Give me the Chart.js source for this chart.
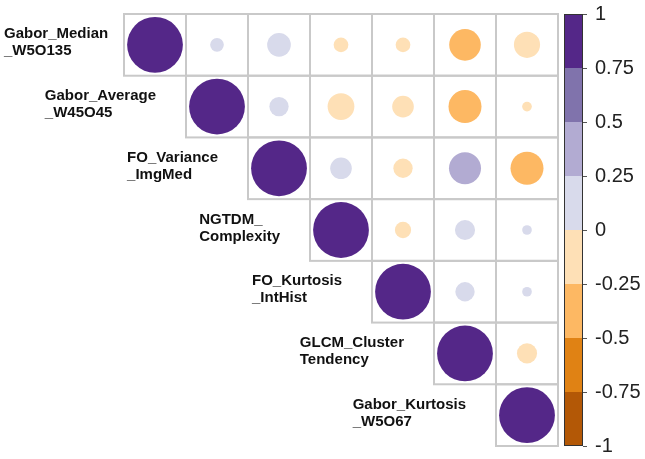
<!DOCTYPE html>
<html>
<head>
<meta charset="utf-8">
<script src="https://cdn.jsdelivr.net/npm/chart.js@4/dist/chart.umd.min.js"></script>
<style>
  body { margin: 0; background: #fff; }
</style>
</head>
<body>
<canvas id="corrChart" width="645" height="459"></canvas>
<script>
const variableLabels = [
  ['Gabor_Median', '_W5O135'],
  ['Gabor_Average', '_W45O45'],
  ['FO_Variance', '_ImgMed'],
  ['NGTDM_', 'Complexity'],
  ['FO_Kurtosis', '_IntHist'],
  ['GLCM_Cluster', 'Tendency'],
  ['Gabor_Kurtosis', '_W5O67'],
];

// upper triangle, row i starts at column i
const corrRows = [
  [1, 0.06, 0.18, -0.07, -0.07, -0.32, -0.22],
  [1, 0.12, -0.23, -0.15, -0.35, -0.03],
  [1, 0.15, -0.12, 0.33, -0.35],
  [1, -0.085, 0.13, 0.03],
  [1, 0.12, 0.03],
  [1, -0.13],
  [1],
];

const colorTicks = [-1, -0.75, -0.5, -0.25, 0, 0.25, 0.5, 0.75, 1];
const colorBins = ['#b35806', '#e08214', '#fdb863', '#fee0b6', '#d8daeb', '#b2abd2', '#8073ac', '#542788'];

const n = variableLabels.length;

function colorFor(v) {
  for (let k = 0; k < colorBins.length; k++) {
    if (v <= colorTicks[k + 1]) return colorBins[k];
  }
  return colorBins[colorBins.length - 1];
}

const points = [];
corrRows.forEach((row, i) => {
  row.forEach((v, k) => points.push({ x: i + k, y: i, v }));
});

function cellSize(chart) {
  const xs = chart.scales.x;
  return xs.getPixelForValue(1) - xs.getPixelForValue(0);
}

const gridPlugin = {
  id: 'cellGrid',
  beforeDatasetsDraw(chart) {
    const { ctx, scales } = chart;
    const cw = cellSize(chart);
    const chh = scales.y.getPixelForValue(1) - scales.y.getPixelForValue(0);
    ctx.save();
    ctx.strokeStyle = '#c9c9c9';
    ctx.lineWidth = 2;
    for (let i = 0; i < n; i++) {
      for (let j = i; j < n; j++) {
        const cx = scales.x.getPixelForValue(j);
        const cy = scales.y.getPixelForValue(i);
        ctx.strokeRect(cx - cw / 2, cy - chh / 2, cw, chh);
      }
    }
    ctx.restore();
  },
  afterDraw(chart) {
    const { ctx, scales, chartArea } = chart;
    const c = cellSize(chart);
    ctx.save();
    ctx.font = 'bold 15px "Liberation Sans", Arial, sans-serif';
    ctx.fillStyle = '#111';
    ctx.textBaseline = 'middle';
    ctx.textAlign = 'left';
    const lineH = 17;
    variableLabels.forEach((lines, i) => {
      const w = Math.max(...lines.map((t) => ctx.measureText(t).width));
      const cellLeft = scales.x.getPixelForValue(i) - c / 2;
      const x = Math.max(4, cellLeft - 30 - w);
      const cy = scales.y.getPixelForValue(i) - 2;
      lines.forEach((t, k) => {
        ctx.fillText(t, x, cy + (k - (lines.length - 1) / 2) * lineH);
      });
    });

    // colour bar
    const cb = scales.cb;
    const x0 = chartArea.right + 6;
    const x1 = chartArea.right + 25;
    colorBins.forEach((col, k) => {
      const yTop = cb.getPixelForValue(colorTicks[k + 1]);
      const yBot = cb.getPixelForValue(colorTicks[k]);
      ctx.fillStyle = col;
      ctx.fillRect(x0, yTop, x1 - x0, yBot - yTop);
    });
    ctx.strokeStyle = '#333';
    ctx.lineWidth = 1;
    ctx.strokeRect(x0 + 0.5, cb.top + 0.5, x1 - x0 - 1, cb.bottom - cb.top - 1);
    ctx.strokeStyle = '#555';
    colorTicks.forEach((t) => {
      const y = Math.round(cb.getPixelForValue(t)) + 0.5;
      ctx.beginPath();
      ctx.moveTo(x1, y);
      ctx.lineTo(x1 + 4, y);
      ctx.stroke();
    });
    ctx.restore();
  },
};

new Chart(document.getElementById('corrChart'), {
  type: 'scatter',
  data: {
    datasets: [{
      data: points,
      clip: false,
      pointBorderWidth: 0,
      pointBackgroundColor: (ctx) => colorFor(ctx.raw.v),
      pointRadius: (ctx) => {
        if (!ctx.chart.chartArea || !ctx.raw) return 0;
        return 0.9 * cellSize(ctx.chart) / 2 * Math.sqrt(Math.abs(ctx.raw.v));
      },
    }],
  },
  options: {
    responsive: false,
    animation: false,
    events: [],
    layout: { autoPadding: false, padding: { left: 124, top: 14, bottom: 13, right: 0 } },
    plugins: { legend: { display: false }, tooltip: { enabled: false } },
    scales: {
      x: { type: 'linear', min: -0.5, max: n - 0.5, display: false },
      y: { type: 'linear', min: -0.5, max: n - 0.5, reverse: true, display: false },
      cb: {
        type: 'linear',
        position: 'right',
        min: -1,
        max: 1,
        grid: { display: false, drawTicks: false },
        border: { display: false },
        ticks: {
          stepSize: 0.25,
          padding: 37,
          color: '#222',
          font: { family: '"Liberation Sans", Arial, sans-serif', size: 20 },
          callback: (value) => String(Math.round(value * 100) / 100),
        },
        afterFit(scale) {
          scale.width = 87;
          scale.paddingTop = 0;
          scale.paddingBottom = 0;
        },
      },
    },
  },
  plugins: [gridPlugin],
});
</script>
</body>
</html>
